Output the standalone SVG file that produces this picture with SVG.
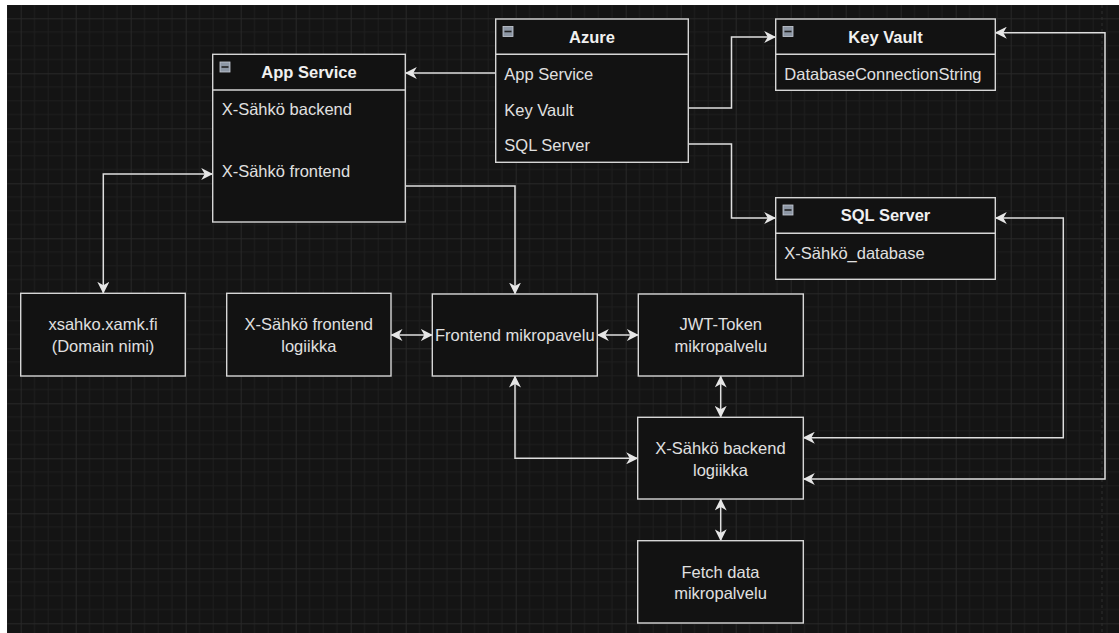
<svg xmlns="http://www.w3.org/2000/svg" width="1119" height="633" viewBox="0 0 1119 633">
<style>
.box{fill:#121212;stroke:#d6d6d6;stroke-width:1.4}
.sep{stroke:#d6d6d6;stroke-width:1.4}
.t{font-family:"Liberation Sans",Arial,sans-serif;font-size:16.5px;fill:#e0e0e0}
.b{font-weight:bold;text-anchor:middle;fill:#f0f0f0}
.c{text-anchor:middle}
.ln{fill:none;stroke:#dedede;stroke-width:1.5}
.icon{fill:#8d97a5;stroke:#c9ced6;stroke-width:0.8}
</style>
<defs>
<pattern id="grid" patternUnits="userSpaceOnUse" x="20.7" y="18.3" width="55" height="55">
<path d="M13.75,0V55M27.5,0V55M41.25,0V55M0,13.75H55M0,27.5H55M0,41.25H55" stroke="#1e1e1e" stroke-width="1"/>
<path d="M0.5,0V55M0,0.5H55" stroke="#282828" stroke-width="1"/>
</pattern>
<marker id="arr" viewBox="0 0 12 12" refX="11.5" refY="6" markerWidth="12" markerHeight="12" markerUnits="userSpaceOnUse" orient="auto-start-reverse">
<path d="M0,0 L12,6 L0,12 L3.5,6 Z" fill="#e6e6e6"/>
</marker>
</defs>
<rect x="0" y="0" width="1119" height="633" fill="#ffffff"/>
<rect x="7" y="5" width="1112" height="628" fill="#141414"/>
<rect x="7" y="5" width="1112" height="628" fill="url(#grid)"/>
<line x1="1102" y1="5" x2="1102" y2="633" stroke="#2e2e2e" stroke-width="1" stroke-dasharray="3 3"/>

<g id="connectors">
<path class="ln" d="M495.7,73 H405.3" marker-end="url(#arr)"/>
<path class="ln" d="M688.3,108 H731.5 V37 H775.7" marker-end="url(#arr)"/>
<path class="ln" d="M688.3,144 H731.5 V218 H775.7" marker-end="url(#arr)"/>
<path class="ln" d="M405.3,186 H515 V294" marker-end="url(#arr)"/>
<path class="ln" d="M212.7,174 H103.3 V293.3" marker-start="url(#arr)" marker-end="url(#arr)"/>
<path class="ln" d="M391,335 H432.3" marker-start="url(#arr)" marker-end="url(#arr)"/>
<path class="ln" d="M597.3,335 H638.3" marker-start="url(#arr)" marker-end="url(#arr)"/>
<path class="ln" d="M720.7,376 V417.3" marker-start="url(#arr)" marker-end="url(#arr)"/>
<path class="ln" d="M515,376 V458.3 H637.7" marker-start="url(#arr)" marker-end="url(#arr)"/>
<path class="ln" d="M720.7,499 V540.7" marker-start="url(#arr)" marker-end="url(#arr)"/>
<path class="ln" d="M995.3,218 H1063.3 V437.7 H803.3" marker-start="url(#arr)" marker-end="url(#arr)"/>
<path class="ln" d="M995.3,32.7 H1105 V479 H803.3" marker-start="url(#arr)" marker-end="url(#arr)"/>
</g>

<g id="app-service">
<rect class="box" x="212.7" y="54.3" width="192.6" height="167.7"/>
<line class="sep" x1="212.7" y1="90" x2="405.3" y2="90"/>
<rect class="icon" x="220" y="62" width="10" height="10"/>
<line x1="221.5" y1="67" x2="228.5" y2="67" stroke="#222" stroke-width="1.6"/>
<text class="t b" x="309" y="78">App Service</text>
<text class="t" x="221.7" y="115">X-Sähkö backend</text>
<text class="t" x="221.7" y="177">X-Sähkö frontend</text>
</g>

<g id="azure">
<rect class="box" x="495.7" y="19" width="192.6" height="143.3"/>
<line class="sep" x1="495.7" y1="54.3" x2="688.3" y2="54.3"/>
<rect class="icon" x="503" y="26.5" width="10" height="10"/>
<line x1="504.5" y1="31.5" x2="511.5" y2="31.5" stroke="#222" stroke-width="1.6"/>
<text class="t b" x="592" y="42.5">Azure</text>
<text class="t" x="504.3" y="80">App Service</text>
<text class="t" x="504.3" y="115.5">Key Vault</text>
<text class="t" x="504.3" y="151">SQL Server</text>
</g>

<g id="key-vault">
<rect class="box" x="775.7" y="19" width="219.6" height="71.3"/>
<line class="sep" x1="775.7" y1="54.3" x2="995.3" y2="54.3"/>
<rect class="icon" x="783" y="26.5" width="10" height="10"/>
<line x1="784.5" y1="31.5" x2="791.5" y2="31.5" stroke="#222" stroke-width="1.6"/>
<text class="t b" x="885.5" y="42.5">Key Vault</text>
<text class="t" x="784.3" y="80">DatabaseConnectionString</text>
</g>

<g id="sql-server">
<rect class="box" x="775.7" y="197.7" width="219.6" height="81.6"/>
<line class="sep" x1="775.7" y1="233.3" x2="995.3" y2="233.3"/>
<rect class="icon" x="783" y="205" width="10" height="10"/>
<line x1="784.5" y1="210" x2="791.5" y2="210" stroke="#222" stroke-width="1.6"/>
<text class="t b" x="885.5" y="221">SQL Server</text>
<text class="t" x="784.3" y="259">X-Sähkö_database</text>
</g>

<g id="domain">
<rect class="box" x="20.7" y="293.3" width="164.6" height="82.7"/>
<text class="t c" x="103" y="330">xsahko.xamk.fi</text>
<text class="t c" x="103" y="351.5">(Domain nimi)</text>
</g>

<g id="frontend-logiikka">
<rect class="box" x="226.7" y="293.3" width="164.3" height="82.7"/>
<text class="t c" x="308.8" y="330">X-Sähkö frontend</text>
<text class="t c" x="308.8" y="351.5">logiikka</text>
</g>

<g id="frontend-mikropalvelu">
<rect class="box" x="432.3" y="294" width="165" height="82"/>
<text class="t c" x="514.8" y="341">Frontend mikropavelu</text>
</g>

<g id="jwt">
<rect class="box" x="638.3" y="294" width="165" height="82"/>
<text class="t c" x="720.8" y="330">JWT-Token</text>
<text class="t c" x="720.8" y="351.5">mikropalvelu</text>
</g>

<g id="backend-logiikka">
<rect class="box" x="637.7" y="417.3" width="165.6" height="81.7"/>
<text class="t c" x="720.5" y="454">X-Sähkö backend</text>
<text class="t c" x="720.5" y="475.5">logiikka</text>
</g>

<g id="fetch-data">
<rect class="box" x="637.7" y="540.7" width="165.6" height="82.3"/>
<text class="t c" x="720.5" y="577.5">Fetch data</text>
<text class="t c" x="720.5" y="598.5">mikropalvelu</text>
</g>
</svg>
